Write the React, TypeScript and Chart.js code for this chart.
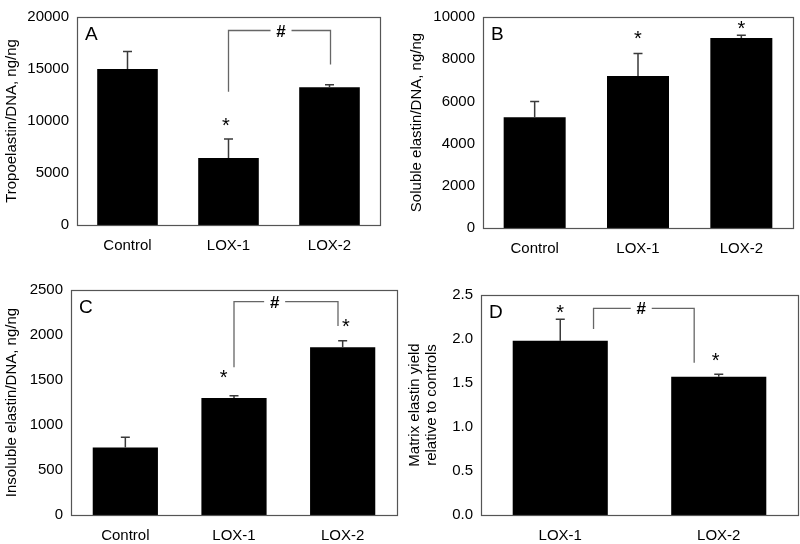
import React, { useEffect, useRef } from "react";
import { Chart, registerables } from "chart.js";

Chart.register(...registerables);

// ---------- data ----------
const categoriesABC = ["Control", "LOX-1", "LOX-2"];
const categoriesD = ["LOX-1", "LOX-2"];

const tropoelastin = [15000, 6450, 13250];
const tropoelastinErr = [1680, 1830, 240];

const solubleElastin = [5250, 7200, 9000];
const solubleElastinErr = [750, 1070, 130];

const insolubleElastin = [750, 1300, 1865];
const insolubleElastinErr = [113, 26, 72];

const matrixYield = [1.98, 1.57];
const matrixYieldErr = [0.245, 0.03];

// significance marks, in data coordinates (category index, value)
const starsA = [{ x: 0.975, y: 10050 }];
const starsB = [{ x: 1, y: 9200 }, { x: 2, y: 9720 }];
const starsC = [{ x: 0.905, y: 1580 }, { x: 2.03, y: 2155 }];
const starsD = [{ x: 0, y: 2.356 }, { x: 0.98, y: 1.81 }];

const bracketA = { x1: 1, x2: 2.01, top: 18700, end1: 12810, end2: 15440, hashX: 1.52 };
const bracketC = { x1: 1, x2: 1.957, top: 2370, end1: 1641, end2: 2100, hashX: 1.374 };
const bracketD = { x1: 0.21, x2: 0.845, top: 2.349, end1: 2.114, end2: 1.73, hashX: 0.511 };

const FONT = "'Liberation Sans', Arial, sans-serif";

type Bracket = { x1: number; x2: number; top: number; end1: number; end2: number; hashX: number };
type PanelProps = {
  letter: string;
  labels: string[];
  values: number[];
  errors: number[];
  yMax: number;
  yStep: number;
  decimals: number;
  title: string | string[];
  titleLineHeight: number;
  titlePad: number;
  stars: { x: number; y: number }[];
  bracket?: Bracket;
  left: number;
  top: number;
  width: number;
  height: number;
  area: { left: number; right: number; top: number; bottom: number };
};

function Panel(p: PanelProps) {
  const ref = useRef<HTMLCanvasElement | null>(null);
  useEffect(() => {
    const canvas = ref.current;
    if (!canvas) return;

    const decor = {
      id: "decor_" + p.letter,
      afterDatasetsDraw(chart: any) {
        const ctx = chart.ctx as CanvasRenderingContext2D;
        const xs = chart.scales.x;
        const ys = chart.scales.y;
        const ca = chart.chartArea;
        const catW = xs.getPixelForValue(1) - xs.getPixelForValue(0);
        const xAt = (i: number) => xs.getPixelForValue(0) + i * catW;
        ctx.save();

        // error bars (upward only)
        const meta = chart.getDatasetMeta(0);
        ctx.strokeStyle = "#3a3a3a";
        ctx.lineWidth = 1.5;
        meta.data.forEach((el: any, i: number) => {
          const y0 = ys.getPixelForValue(p.values[i]);
          const y1 = ys.getPixelForValue(p.values[i] + p.errors[i]);
          ctx.beginPath();
          ctx.moveTo(el.x, y0);
          ctx.lineTo(el.x, y1);
          ctx.moveTo(el.x - 4.5, y1);
          ctx.lineTo(el.x + 4.5, y1);
          ctx.stroke();
        });

        // frame
        ctx.strokeStyle = "#555";
        ctx.lineWidth = 1.2;
        ctx.strokeRect(Math.round(ca.left) + 0.5, Math.round(ca.top) + 0.5, Math.round(ca.right - ca.left), Math.round(ca.bottom - ca.top));

        // letter
        ctx.fillStyle = "#000";
        ctx.font = `19px ${FONT}`;
        ctx.textAlign = "left";
        ctx.textBaseline = "alphabetic";
        ctx.fillText(p.letter, ca.left + 8, ca.top + 23);

        // stars
        const starSize = 20;
        ctx.font = `${starSize}px ${FONT}`;
        ctx.textAlign = "center";
        p.stars.forEach((s) => {
          ctx.fillText("*", xAt(s.x), ys.getPixelForValue(s.y) + 0.58 * starSize);
        });

        // bracket
        if (p.bracket) {
          const b = p.bracket;
          const xa = xAt(b.x1);
          const xb = xAt(b.x2);
          const yt = ys.getPixelForValue(b.top);
          const hx = xAt(b.hashX);
          const gap = 10.5;
          ctx.strokeStyle = "#666";
          ctx.lineWidth = 1.3;
          ctx.beginPath();
          ctx.moveTo(xa, ys.getPixelForValue(b.end1));
          ctx.lineTo(xa, yt);
          ctx.lineTo(hx - gap, yt);
          ctx.moveTo(hx + gap, yt);
          ctx.lineTo(xb, yt);
          ctx.lineTo(xb, ys.getPixelForValue(b.end2));
          ctx.stroke();
          const hs = 17;
          ctx.font = `bold ${hs}px ${FONT}`;
          ctx.fillStyle = "#000";
          ctx.fillText("#", hx, yt + 0.36 * hs);
        }
        ctx.restore();
      },
    };

    const tickFont = { family: FONT, size: 15 };
    const chart = new Chart(canvas, {
      type: "bar",
      data: {
        labels: p.labels,
        datasets: [
          {
            data: p.values,
            backgroundColor: "#000",
            borderColor: "#000",
            borderWidth: 0,
            barPercentage: 0.6,
            categoryPercentage: 1,
          },
        ],
      },
      options: {
        animation: false,
        responsive: false,
        maintainAspectRatio: false,
        events: [],
        layout: { padding: { left: 0, top: p.area.top, right: p.width - p.area.right, bottom: 0 } },
        plugins: { legend: { display: false }, tooltip: { enabled: false }, title: { display: false } },
        scales: {
          x: {
            grid: { display: false, drawTicks: false },
            border: { display: false },
            ticks: { color: "#000", font: tickFont, padding: 12, maxRotation: 0 },
            afterFit: (s: any) => {
              s.height = p.height - p.area.bottom;
            },
          },
          y: {
            min: 0,
            max: p.yMax,
            grid: { display: false, drawTicks: false },
            border: { display: false },
            ticks: {
              stepSize: p.yStep,
              color: "#000",
              font: tickFont,
              padding: 8,
              callback: (v: any) => Number(v).toFixed(p.decimals),
            },
            title: {
              display: true,
              text: p.title,
              color: "#000",
              font: { family: FONT, size: 15, lineHeight: p.titleLineHeight },
              padding: { top: p.titlePad, bottom: 0 },
            },
            afterFit: (s: any) => {
              s.width = p.area.left;
            },
          },
        },
      } as any,
      plugins: [decor],
    });
    return () => chart.destroy();
  }, []);

  return (
    <canvas
      ref={ref}
      width={p.width}
      height={p.height}
      style={{ position: "absolute", left: p.left, top: p.top, width: p.width, height: p.height }}
    />
  );
}

export default function App() {
  return (
    <div style={{ position: "absolute", left: 0, top: 0, width: 800, height: 544, background: "#fff", overflow: "hidden" }}>
      <Panel
        letter="A"
        labels={categoriesABC}
        values={tropoelastin}
        errors={tropoelastinErr}
        yMax={20000}
        yStep={5000}
        decimals={0}
        title="Tropoelastin/DNA, ng/ng"
        titleLineHeight={1.2}
        titlePad={2.5}
        stars={starsA}
        bracket={bracketA}
        left={0}
        top={0}
        width={400}
        height={260}
        area={{ left: 77, right: 380, top: 10, bottom: 225 }}
      />
      <Panel
        letter="B"
        labels={categoriesABC}
        values={solubleElastin}
        errors={solubleElastinErr}
        yMax={10000}
        yStep={2000}
        decimals={0}
        title="Soluble elastin/DNA, ng/ng"
        titleLineHeight={1.2}
        titlePad={8}
        stars={starsB}
        left={400}
        top={0}
        width={400}
        height={260}
        area={{ left: 83, right: 393, top: 10, bottom: 228 }}
      />
      <Panel
        letter="C"
        labels={categoriesABC}
        values={insolubleElastin}
        errors={insolubleElastinErr}
        yMax={2500}
        yStep={500}
        decimals={0}
        title="Insoluble elastin/DNA, ng/ng"
        titleLineHeight={1.2}
        titlePad={2.5}
        stars={starsC}
        bracket={bracketC}
        left={0}
        top={260}
        width={400}
        height={284}
        area={{ left: 71, right: 397, top: 30, bottom: 255 }}
      />
      <Panel
        letter="D"
        labels={categoriesD}
        values={matrixYield}
        errors={matrixYieldErr}
        yMax={2.5}
        yStep={0.5}
        decimals={1}
        title={["Matrix elastin yield", "relative to controls"]}
        titleLineHeight={1.1}
        titlePad={6.75}
        stars={starsD}
        bracket={bracketD}
        left={400}
        top={260}
        width={400}
        height={284}
        area={{ left: 81, right: 398, top: 35, bottom: 255 }}
      />
    </div>
  );
}
